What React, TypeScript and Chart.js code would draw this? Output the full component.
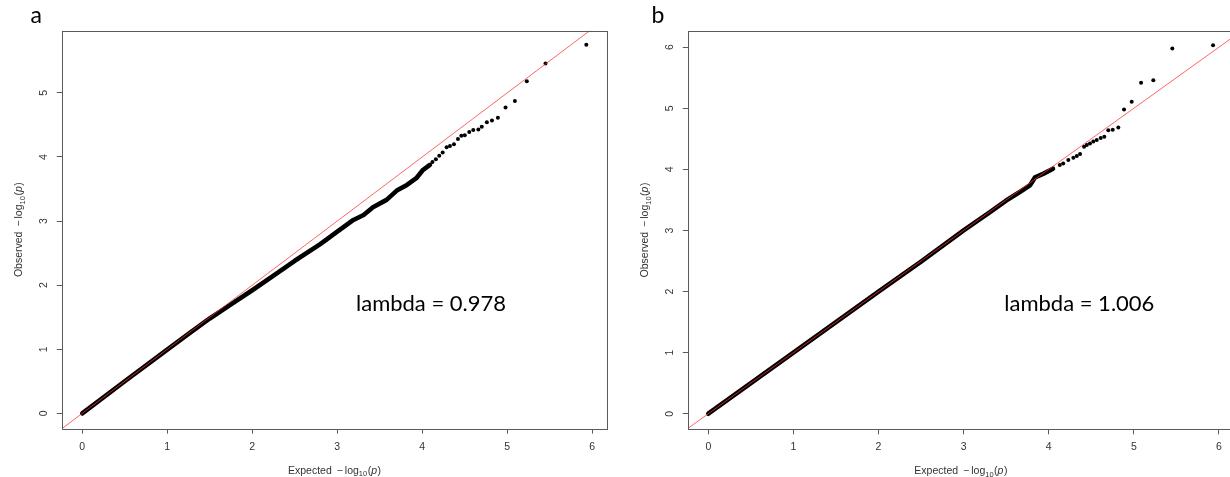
import React, { useEffect, useRef } from "react";
import { Chart, registerables } from "chart.js";

Chart.register(...registerables);

// Shared tick values
const xTicks = [0, 1, 2, 3, 4, 5, 6];
const yTicksA = [0, 1, 2, 3, 4, 5];
const yTicksB = [0, 1, 2, 3, 4, 5, 6];

// Panel a: expected vs observed -log10(p), dense body of the distribution
const bandExpA = [0, 0.5, 1.0, 1.25, 1.5, 1.75, 2.0, 2.25, 2.5, 2.8, 3.0, 3.19, 3.31, 3.42, 3.58, 3.7, 3.82, 3.93, 4.01, 4.09];
const bandObsA = [0, 0.5, 0.995, 1.24, 1.48, 1.7, 1.92, 2.15, 2.38, 2.64, 2.835, 3.017, 3.095, 3.216, 3.33, 3.475, 3.564, 3.668, 3.8, 3.876];
// Panel a: upper tail, individual SNPs
const tailExpA = [4.12, 4.16, 4.2, 4.24, 4.287, 4.326, 4.373, 4.42, 4.46, 4.5, 4.553, 4.6, 4.66, 4.7, 4.76, 4.82, 4.89, 4.98, 5.09, 5.23, 5.45, 5.93];
const tailObsA = [3.92, 3.965, 4.02, 4.07, 4.15, 4.17, 4.2, 4.28, 4.33, 4.34, 4.39, 4.42, 4.43, 4.47, 4.54, 4.57, 4.61, 4.77, 4.875, 5.18, 5.46, 5.75];

// Panel b
const bandExpB = [0, 0.5, 1, 1.5, 2, 2.5, 3.0, 3.31, 3.5, 3.66, 3.78, 3.84, 3.94, 4.05];
const bandObsB = [0, 0.5, 1, 1.5, 2, 2.49, 3.0, 3.3, 3.49, 3.63, 3.74, 3.87, 3.93, 4.01];
const tailExpB = [4.13, 4.17, 4.23, 4.29, 4.33, 4.368, 4.415, 4.447, 4.485, 4.524, 4.564, 4.611, 4.653, 4.7, 4.752, 4.818, 4.885, 4.975, 5.085, 5.229, 5.452, 5.931];
const tailObsB = [4.07, 4.098, 4.152, 4.19, 4.218, 4.25, 4.37, 4.4, 4.425, 4.458, 4.48, 4.512, 4.534, 4.64, 4.65, 4.687, 4.982, 5.107, 5.418, 5.457, 5.98, 6.03];

const lambdaA = "lambda = 0.978";
const lambdaB = "lambda = 1.006";

const AXIS_COLOR = "#5a5a5a";
const LABEL_COLOR = "#333333";
const AXIS_FONT = '"Liberation Sans", Arial, sans-serif';
const NOTE_FONT = 'Lato, "Open Sans", sans-serif';
const HEIGHT = 477;

type PanelCfg = {
  letter: string;
  lambda: string;
  bandExp: number[];
  bandObs: number[];
  tailExp: number[];
  tailObs: number[];
  yTicks: number[];
  xMin: number;
  xMax: number;
  yMin: number;
  yMax: number;
  canvasLeft: number;
  canvasWidth: number;
  plotLeft: number;
  plotRight: number;
  plotTop: number;
  plotBottom: number;
  letterX: number;
  lambdaX: number;
};

const panels: PanelCfg[] = [
  {
    letter: "a",
    lambda: lambdaA,
    bandExp: bandExpA,
    bandObs: bandObsA,
    tailExp: tailExpA,
    tailObs: tailObsA,
    yTicks: yTicksA,
    xMin: -0.235,
    xMax: 6.17,
    yMin: -0.24,
    yMax: 5.97,
    canvasLeft: 0,
    canvasWidth: 615,
    plotLeft: 62.3,
    plotRight: 606.7,
    plotTop: 30.7,
    plotBottom: 428.7,
    letterX: 30.5,
    lambdaX: 356,
  },
  {
    letter: "b",
    lambda: lambdaB,
    bandExp: bandExpB,
    bandObs: bandObsB,
    tailExp: tailExpB,
    tailObs: tailObsB,
    yTicks: yTicksB,
    xMin: -0.235,
    xMax: 6.17,
    yMin: -0.255,
    yMax: 6.27,
    canvasLeft: 615,
    canvasWidth: 640,
    plotLeft: 73.3,
    plotRight: 618.4,
    plotTop: 30.7,
    plotBottom: 429.3,
    letterX: 36.5,
    lambdaX: 389.3,
  },
];

const zip = (xs: number[], ys: number[]) => xs.map((x, i) => ({ x, y: ys[i] }));

// "Expected −log10(p)" style axis title, optionally rotated
function drawLogTitle(ctx: CanvasRenderingContext2D, word: string, cx: number, cy: number, vertical: boolean) {
  const fs = 10.5;
  const base = `${fs}px ${AXIS_FONT}`;
  const parts = [
    { t: word, f: base, dy: 0, gap: 5 },
    { t: "\u2212", f: base, dy: 0, gap: 2 },
    { t: "log", f: base, dy: 0, gap: 0 },
    { t: "10", f: `7.5px ${AXIS_FONT}`, dy: 2.5, gap: 0.5 },
    { t: "(", f: base, dy: 0, gap: 0 },
    { t: "p", f: `italic ${fs}px ${AXIS_FONT}`, dy: 0, gap: 0.5 },
    { t: ")", f: base, dy: 0, gap: 0 },
  ];
  ctx.save();
  const widths = parts.map((p) => {
    ctx.font = p.f;
    return ctx.measureText(p.t).width;
  });
  let total = 0;
  parts.forEach((p, i) => {
    total += widths[i] + (i < parts.length - 1 ? p.gap : 0);
  });
  ctx.translate(cx, cy);
  if (vertical) ctx.rotate(-Math.PI / 2);
  ctx.fillStyle = LABEL_COLOR;
  ctx.textAlign = "left";
  ctx.textBaseline = "alphabetic";
  let x = -total / 2;
  parts.forEach((p, i) => {
    ctx.font = p.f;
    ctx.fillText(p.t, x, fs * 0.36 + p.dy);
    x += widths[i] + p.gap;
  });
  ctx.restore();
}

function makeDecor(cfg: PanelCfg) {
  return {
    id: "qqDecor",
    afterDraw(chart: Chart) {
      const { ctx, chartArea, scales } = chart as any;
      const xs = scales.x;
      const ys = scales.y;
      ctx.save();
      // plot frame
      ctx.strokeStyle = AXIS_COLOR;
      ctx.lineWidth = 1;
      const l = Math.round(chartArea.left) + 0.5;
      const t = Math.round(chartArea.top) + 0.5;
      const r = Math.round(chartArea.right) + 0.5;
      const b = Math.round(chartArea.bottom) + 0.5;
      ctx.strokeRect(l, t, r - l, b - t);

      // tick labels
      ctx.fillStyle = LABEL_COLOR;
      ctx.font = `10.5px ${AXIS_FONT}`;
      ctx.textAlign = "center";
      ctx.textBaseline = "middle";
      xTicks.forEach((v) => {
        ctx.fillText(String(v), xs.getPixelForValue(v), chartArea.bottom + 18);
      });
      cfg.yTicks.forEach((v) => {
        ctx.save();
        ctx.translate(chartArea.left - 18.3, ys.getPixelForValue(v));
        ctx.rotate(-Math.PI / 2);
        ctx.fillText(String(v), 0, 0);
        ctx.restore();
      });

      // axis titles
      drawLogTitle(ctx, "Expected", (chartArea.left + chartArea.right) / 2, chartArea.bottom + 41.3, false);
      drawLogTitle(ctx, "Observed", chartArea.left - 44, (chartArea.top + chartArea.bottom) / 2, true);

      // panel letter and genomic inflation note
      ctx.fillStyle = "#000";
      ctx.textAlign = "left";
      ctx.textBaseline = "alphabetic";
      ctx.font = `23px ${NOTE_FONT}`;
      ctx.fillText(cfg.letter, cfg.letterX, 22.7);
      ctx.font = `22px ${NOTE_FONT}`;
      ctx.fillText(cfg.lambda, cfg.lambdaX, 310.7);
      ctx.restore();
    },
  };
}

function QQPanel({ cfg }: { cfg: PanelCfg }) {
  const ref = useRef<HTMLCanvasElement>(null);
  useEffect(() => {
    const chart = new Chart(ref.current as HTMLCanvasElement, {
      type: "scatter",
      data: {
        datasets: [
          {
            // identity line y = x
            data: [
              { x: -1, y: -1 },
              { x: 7, y: 7 },
            ],
            showLine: true,
            borderColor: "rgba(255,50,50,0.75)",
            borderWidth: 1,
            pointRadius: 0,
          },
          {
            data: zip(cfg.tailExp, cfg.tailObs),
            showLine: false,
            pointRadius: 2,
            pointBackgroundColor: "#000",
            pointBorderWidth: 0,
          },
          {
            data: zip(cfg.bandExp, cfg.bandObs),
            showLine: true,
            borderColor: "#000",
            borderWidth: 4.6,
            borderCapStyle: "round",
            borderJoinStyle: "round",
            pointRadius: 0,
          },
        ] as any,
      },
      options: {
        animation: false,
        responsive: false,
        devicePixelRatio: 1,
        events: [],
        layout: {
          padding: {
            left: 0,
            top: cfg.plotTop,
            right: cfg.canvasWidth - cfg.plotRight,
            bottom: 0,
          },
        },
        plugins: {
          legend: { display: false },
          tooltip: { enabled: false },
        },
        scales: {
          x: {
            type: "linear",
            min: cfg.xMin,
            max: cfg.xMax,
            afterBuildTicks: (s: any) => {
              s.ticks = xTicks.map((v) => ({ value: v }));
            },
            afterFit: (s: any) => {
              s.height = HEIGHT - cfg.plotBottom;
            },
            grid: { drawOnChartArea: false, drawTicks: true, tickLength: 5, color: AXIS_COLOR, lineWidth: 1 },
            border: { display: false },
            ticks: { display: false },
          },
          y: {
            type: "linear",
            min: cfg.yMin,
            max: cfg.yMax,
            afterBuildTicks: (s: any) => {
              s.ticks = cfg.yTicks.map((v) => ({ value: v }));
            },
            afterFit: (s: any) => {
              s.width = cfg.plotLeft;
            },
            grid: { drawOnChartArea: false, drawTicks: true, tickLength: 5.5, color: AXIS_COLOR, lineWidth: 1 },
            border: { display: false },
            ticks: { display: false },
          },
        },
      } as any,
      plugins: [makeDecor(cfg)],
    });
    return () => chart.destroy();
  }, [cfg]);
  return (
    <canvas
      ref={ref}
      width={cfg.canvasWidth}
      height={HEIGHT}
      style={{ position: "absolute", left: cfg.canvasLeft, top: 0, width: cfg.canvasWidth, height: HEIGHT }}
    />
  );
}

export default function App() {
  return (
    <div
      style={{
        position: "fixed",
        left: 0,
        top: 0,
        width: 1230,
        height: HEIGHT,
        overflow: "hidden",
        background: "#fff",
      }}
    >
      {panels.map((p) => (
        <QQPanel key={p.letter} cfg={p} />
      ))}
    </div>
  );
}
